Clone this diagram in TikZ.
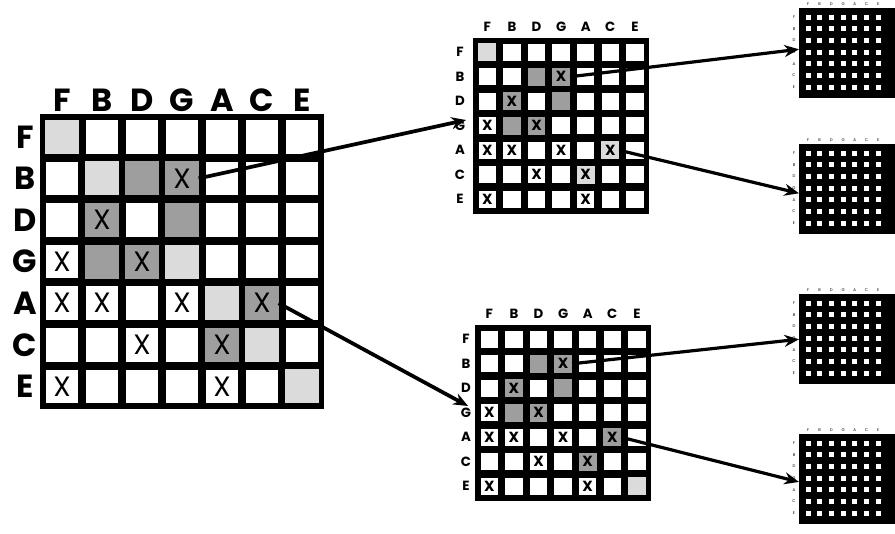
\documentclass[tikz,border=0pt]{standalone}
\usepackage{fontspec}
\setmainfont{Poppins}
\usetikzlibrary{arrows.meta}
\definecolor{lightsh}{gray}{0.86}
\definecolor{medsh}{gray}{0.62}
\tikzset{
 cellbox/.style={fill=white, draw=none, inner sep=0pt},
 bigcell/.style={cellbox, minimum width=24.5pt, minimum height=25.2pt},
 midcell/.style={cellbox, minimum width=13pt, minimum height=13pt},
 biglab/.style={font=\fontsize{24}{24}\selectfont\bfseries, inner sep=0pt},
 bigx/.style={font=\fontsize{21}{21}\selectfont, inner sep=0pt},
 midlab/.style={font=\fontsize{10}{10}\selectfont\bfseries, inner sep=0pt},
 midx/.style={font=\fontsize{11}{11}\selectfont\bfseries, inner sep=0pt},
 tinylab/.style={font=\fontsize{3}{3}\selectfont, inner sep=0pt},
 flow/.style={line width=2.8pt, -{Stealth[length=11pt,width=9pt]}},
 blackmat/.style={fill=black, draw=none, inner sep=0pt, anchor=north west, minimum width=72pt, minimum height=67.5pt},
}
% #1 name, #2 x0, #3 y0, #4 cell width, #5 cell height, #6 cell style, #7 outer extra border
\newcommand\mygrid[7]{%
 \fill[black] ({#2-#7},{#3-#7}) rectangle ({#2+7*#4+#7},{#3+7*#5+#7});
 \foreach \r in {1,...,7}{\foreach \c in {1,...,7}{%
   \node[#6] (#1-\r-\c) at ({#2+#4*(\c-0.5)},{#3+#5*(\r-0.5)}) {};}}%
}
\newcommand\myshade[3]{% name, color, list r/c
 \foreach \r/\c in {#3}{\fill[#2] (#1-\r-\c.south west) rectangle (#1-\r-\c.north east);}}
\newcommand\myxs[2]{% name, style
 \foreach \r/\c in {2/4,3/2,4/1,4/3,5/1,5/2,5/4,5/6,6/3,6/5,7/1,7/5}{\node[#2] at (#1-\r-\c) {X};}}
\newcommand\mysmall[3]{% name, x0, y0
 \node[blackmat] (#1) at (#2,#3) {};
 \foreach \r in {1,...,7}{\foreach \c in {1,...,7}{%
   \fill[white] ({#2+9+11.7*(\c-1)-2.5},{#3+9+11.7*(\r-1)-2.5}) rectangle ++(5,5);}}
 \foreach \l [count=\i] in {F,B,D,G,A,C,E}{%
   \node[tinylab] at ({#2+9+11.7*(\i-1)},{#3-4}) {\l};
   \node[tinylab] at ({#2-5},{#3+9+11.7*(\i-1)}) {\l};}
}
\begin{document}
\begin{tikzpicture}[x=0.75pt,y=-0.75pt]
\useasboundingbox (0,0) rectangle (895,533);
\fill[white] (0,0) rectangle (895,533);

% ---- main matrix
\mygrid{M}{42}{116}{40}{41.6}{bigcell}{2}
\myshade{M}{lightsh}{1/1,2/2,4/4,5/5,6/6,7/7}
\myshade{M}{medsh}{2/3,2/4,3/2,3/4,4/2,4/3,5/6,6/5}
\myxs{M}{bigx}
\foreach \l [count=\i] in {F,B,D,G,A,C,E}{%
  \node[biglab] (MC\i) at ({42+40*(\i-0.5)},100) {\l};
  \node[biglab] (MR\i) at (25,{116+41.6*(\i-0.5)}) {\l};}

% ---- top middle matrix
\mygrid{T}{475}{40}{24.6}{24.5}{midcell}{2}
\myshade{T}{lightsh}{1/1,5/6,6/5}
\myshade{T}{medsh}{2/3,2/4,3/2,3/4,4/2,4/3}
\myxs{T}{midx}
\foreach \l [count=\i] in {F,B,D,G,A,C,E}{%
  \node[midlab] (TC\i) at ({475+24.6*(\i-0.5)},27) {\l};
  \node[midlab] (TR\i) at (460,{40+24.5*(\i-0.5)}) {\l};}

% ---- bottom middle matrix
\mygrid{B}{477}{327}{24.6}{24.5}{midcell}{2}
\myshade{B}{lightsh}{7/7}
\myshade{B}{medsh}{2/3,2/4,3/2,3/4,4/2,4/3,5/6,6/5}
\myxs{B}{midx}
\foreach \l [count=\i] in {F,B,D,G,A,C,E}{%
  \node[midlab] (BC\i) at ({477+24.6*(\i-0.5)},314) {\l};
  \node[midlab] (BR\i) at (466,{327+24.5*(\i-0.5)}) {\l};}

% ---- right small matrices
\mysmall{R1}{799}{8}
\mysmall{R2}{799}{144}
\mysmall{R3}{799}{294}
\mysmall{R4}{799}{434}

% ---- connectors
\coordinate (tin) at (466,120);
\coordinate (bin) at (468,406);
\draw[flow] (M-2-4.east) -- (tin);
\draw[flow] (M-5-6.east) -- (bin);
\draw[flow, line width=2.4pt] (T-2-4.east) -- ([yshift=3pt]R1.west);
\draw[flow, line width=2.4pt] (T-5-6.east) -- ([yshift=-3pt]R2.west);
\draw[flow, line width=2.4pt] (B-2-4.east) -- (R3.west);
\draw[flow, line width=2.4pt] (B-5-6.east) -- ([yshift=-2pt]R4.west);
\end{tikzpicture}
\end{document}
